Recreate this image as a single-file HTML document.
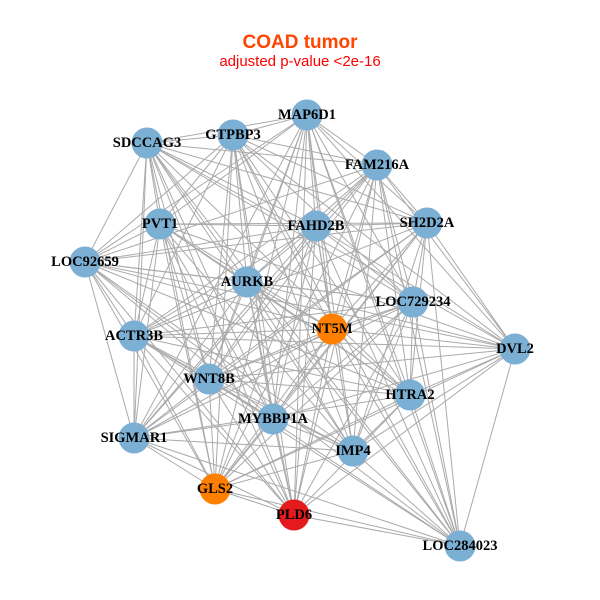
<!DOCTYPE html>
<html><head><meta charset="utf-8"><style>
html,body{margin:0;padding:0;background:#fff;width:600px;height:600px;overflow:hidden}
svg{display:block}
.l{font-family:"Liberation Serif",serif;font-weight:bold;font-size:14.5px;fill:#000;text-anchor:middle;dominant-baseline:central}
</style></head><body>
<svg id="s" width="600" height="600" xmlns="http://www.w3.org/2000/svg">
<text x="300" y="48" text-anchor="middle" font-family="Liberation Sans,sans-serif" font-weight="bold" font-size="19" fill="#ff4500">COAD tumor</text>
<text x="300" y="66" text-anchor="middle" font-family="Liberation Sans,sans-serif" font-size="15" fill="#ff0000">adjusted p-value &lt;2e-16</text>
<g id="e" stroke="#aaaaaa" stroke-width="1"></g>
<g id="n"></g>
<g>
<text class="l" x="307" y="115">MAP6D1</text>
<text class="l" x="233" y="135">GTPBP3</text>
<text class="l" x="147" y="143">SDCCAG3</text>
<text class="l" x="377" y="165">FAM216A</text>
<text class="l" x="160" y="224">PVT1</text>
<text class="l" x="316" y="226">FAHD2B</text>
<text class="l" x="427" y="223">SH2D2A</text>
<text class="l" x="85" y="262">LOC92659</text>
<text class="l" x="247" y="282">AURKB</text>
<text class="l" x="413" y="302">LOC729234</text>
<text class="l" x="332" y="329">NT5M</text>
<text class="l" x="134" y="336">ACTR3B</text>
<text class="l" x="515" y="349">DVL2</text>
<text class="l" x="209" y="379">WNT8B</text>
<text class="l" x="410" y="395">HTRA2</text>
<text class="l" x="273" y="419">MYBBP1A</text>
<text class="l" x="134" y="438">SIGMAR1</text>
<text class="l" x="353" y="451">IMP4</text>
<text class="l" x="215" y="489">GLS2</text>
<text class="l" x="294" y="515">PLD6</text>
<text class="l" x="460" y="546">LOC284023</text>
</g>
</svg>
<script>
var N=[[307,115],[233,135],[147,143],[377,165],[160,224],[316,226],[427,223],[85,262],[247,282],[413,302],[332,329,'#ff8000'],[134,336],[515,349],[209,379],[410,395],[273,419],[134,438],[353,451],[215,489,'#ff8000'],[294,515,'#e41a1c'],[460,546]];
var ns="http://www.w3.org/2000/svg",e=document.getElementById('e'),g=document.getElementById('n');
for(var i=0;i<N.length;i++)for(var j=i+1;j<N.length;j++){
 if((i*7+j*3)%11==0)continue;
 var l=document.createElementNS(ns,'line');l.setAttribute('x1',N[i][0]);l.setAttribute('y1',N[i][1]);l.setAttribute('x2',N[j][0]);l.setAttribute('y2',N[j][1]);e.appendChild(l);}
N.forEach(function(p){var c=document.createElementNS(ns,'circle');c.setAttribute('cx',p[0]);c.setAttribute('cy',p[1]);c.setAttribute('r',15.5);c.setAttribute('fill',p[2]||'#7bafd4');g.appendChild(c);});
</script>
</body></html>
